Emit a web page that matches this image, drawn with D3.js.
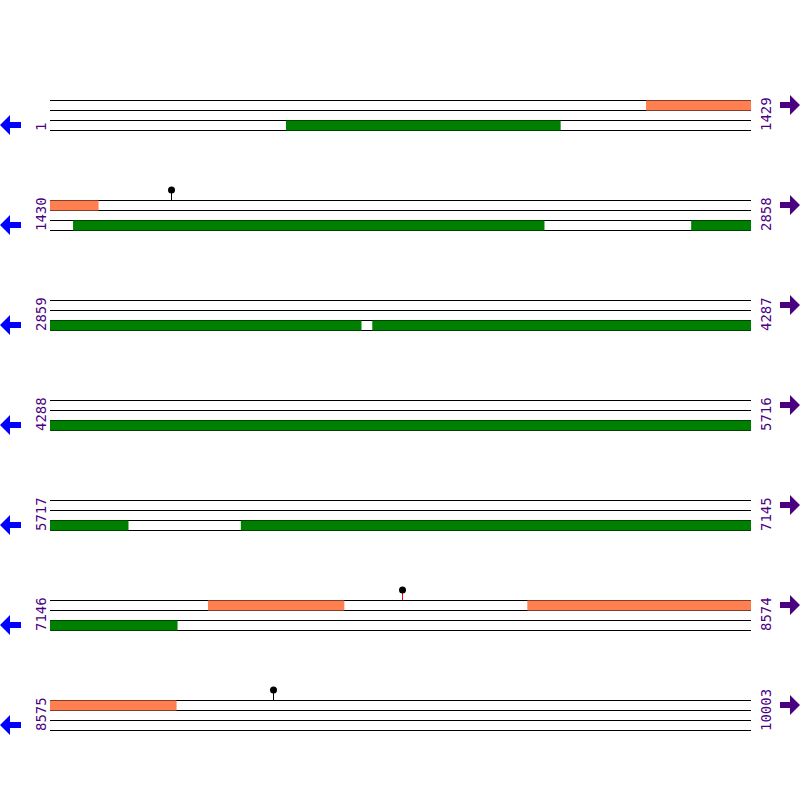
<!DOCTYPE html>
<html><head><meta charset="utf-8">
<script src="https://cdn.jsdelivr.net/npm/d3@7"></script>
<style>body{margin:0;background:#fff}</style>
</head><body>
<svg id="map" width="800" height="800"></svg>
<script>
const rowLength = 1429;
const rowStarts = [1, 1430, 2859, 4288, 5717, 7146, 8575];
const rowEnds = [1429, 2858, 4287, 5716, 7145, 8574, 10003];

// forward (upper track) features
const fwdStarts = [1216, 7468, 8119];
const fwdEnds = [1528, 7745, 8832];
// reverse (lower track) features
const revStarts = [482, 1477, 2737, 3516, 6106];
const revEnds = [1041, 2437, 3493, 5876, 7405];
// sites (pins)
const sitePos = [1677, 7864, 9030];
const siteColor = ['#000', 'red', '#000'];

const svg = d3.select('#map');
const x = d3.scaleLinear().domain([0, rowLength]).range([50, 751]);
const rowY = d3.scaleLinear().domain([0, 1]).range([100, 200]);

// split features across rows
function pieces(starts, ends) {
	const out = [];
	starts.forEach((s, i) => {
		const e = ends[i];
		rowStarts.forEach((rs, r) => {
			const re = rowEnds[r];
			const a = Math.max(s, rs), b = Math.min(e, re);
			if (a <= b) out.push({ row: r, a: a - rs, b: b - rs + 1 });
		});
	});
	return out;
}

rowStarts.forEach((rs, r) => {
	const y0 = rowY(r);
	const g = svg.append('g');
	[0, 10, 20, 30].forEach(dy => {
		g.append('line')
		.attr('x1', x(0)).attr('x2', x(rowLength))
		.attr('y1', y0 + dy + 0.5).attr('y2', y0 + dy + 0.5)
		.attr('stroke', '#000').attr('stroke-width', 1);
	});
	g.append('text')
	.attr('transform', `translate(46,${y0 + 31}) rotate(-90)`)
	.attr('font-family', 'DejaVu Sans Mono').attr('font-size', 14)
	.attr('fill', '#4b0082').text(rs);
	g.append('text')
	.attr('transform', `translate(771,${y0 + 31}) rotate(-90)`)
	.attr('font-family', 'DejaVu Sans Mono').attr('font-size', 14)
	.attr('fill', '#4b0082').text(rowEnds[r]);
	// left arrow (reverse strand)
	g.append('path')
	.attr('d', `M0,${y0 + 25} L10,${y0 + 15} L10,${y0 + 22} L21,${y0 + 22} L21,${y0 + 28} L10,${y0 + 28} L10,${y0 + 35} Z`)
	.attr('fill', 'blue');
	// right arrow (forward strand)
	g.append('path')
	.attr('d', `M800,${y0 + 5} L790,${y0 - 5} L790,${y0 + 2} L780,${y0 + 2} L780,${y0 + 8} L790,${y0 + 8} L790,${y0 + 15} Z`)
	.attr('fill', '#4b0082');
});

svg.selectAll('rect.fwd').data(pieces(fwdStarts, fwdEnds)).enter().append('rect')
.attr('x', d => x(d.a)).attr('width', d => x(d.b) - x(d.a))
.attr('y', d => rowY(d.row) + 0.5).attr('height', 10)
.attr('fill', '#ff7f50');

svg.selectAll('rect.rev').data(pieces(revStarts, revEnds)).enter().append('rect')
.attr('x', d => x(d.a)).attr('width', d => x(d.b) - x(d.a))
.attr('y', d => rowY(d.row) + 20.5).attr('height', 10)
.attr('fill', 'green');

sitePos.forEach((p, i) => {
	const r = rowStarts.findIndex((rs, k) => p >= rs && p <= rowEnds[k]);
	const px = Math.round(x(p - rowStarts[r])) + 0.5;
	const y0 = rowY(r);
	svg.append('line').attr('x1', px).attr('x2', px)
	.attr('y1', y0 - 10).attr('y2', y0).attr('stroke', siteColor[i]);
	svg.append('circle').attr('cx', px).attr('cy', y0 - 10).attr('r', 3.5).attr('fill', '#000');
});
</script>
</body></html>
